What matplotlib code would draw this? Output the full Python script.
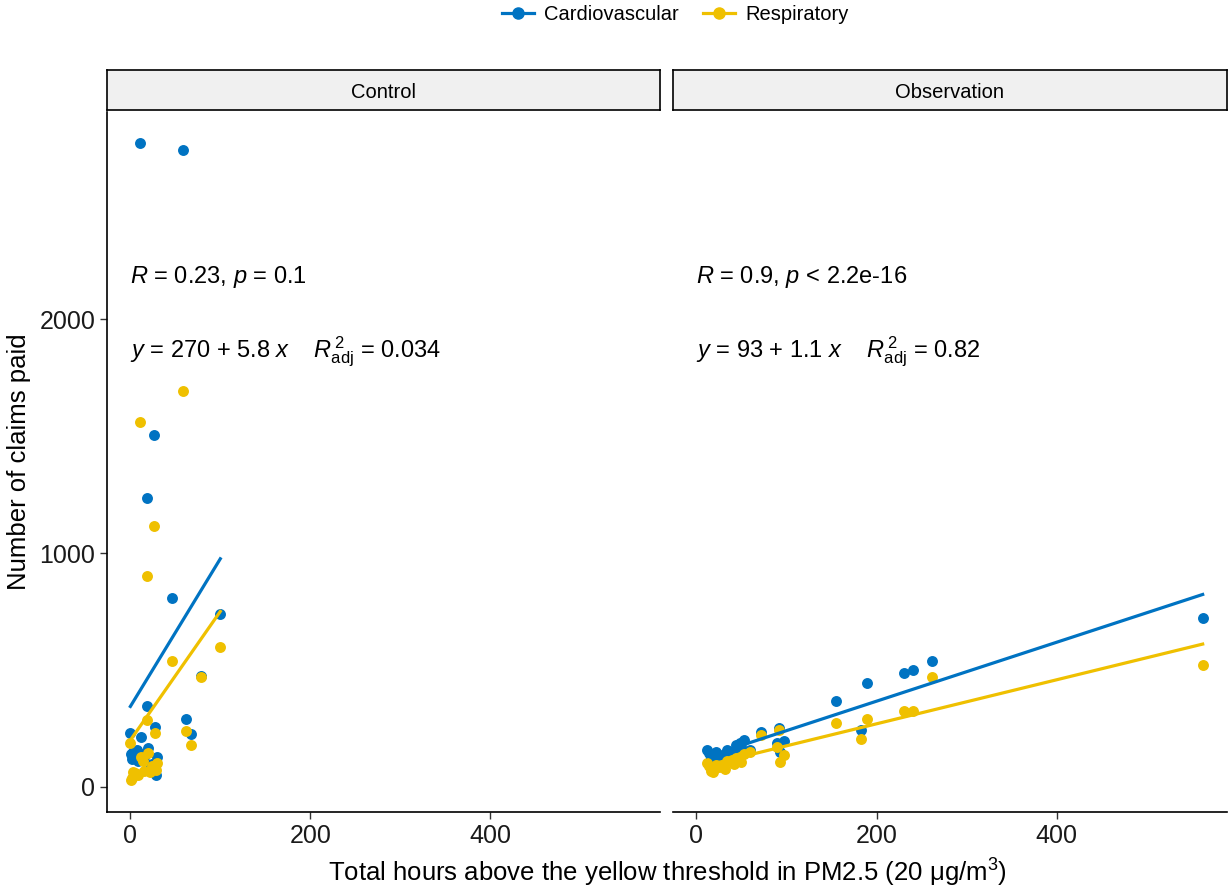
import numpy as np
import matplotlib.pyplot as plt

plt.rcParams['font.family'] = ['Liberation Sans', 'DejaVu Sans']
plt.rcParams['mathtext.fontset'] = 'custom'
plt.rcParams['mathtext.rm'] = 'Liberation Sans'
plt.rcParams['mathtext.it'] = 'Liberation Sans:italic'

#%% data
panels = ['Control', 'Observation']
series = ['Cardiovascular', 'Respiratory']
colors = ['#0073C2', '#EFC000']

ctrl_x = [0, 1, 2, 3, 5, 7, 9, 11, 12, 14, 15, 18, 19, 20, 22, 24, 26, 27, 28, 30, 46, 59, 62, 67, 78, 100]
ctrl_cardio = [231, 140, 120, 150, 130, 160, 110, 2752, 214, 140, 130, 346, 1235, 166, 77, 100, 1504, 256, 51, 128, 808, 2722, 291, 226, 474, 739]
ctrl_resp = [188, 30, 40, 64, 60, 55, 51, 1560, 128, 110, 70, 286, 902, 145, 64, 90, 1115, 231, 73, 103, 538, 1692, 239, 179, 470, 598]

obs_x = [12, 14, 16, 18, 20, 22, 25, 29, 32, 34, 39, 42, 44, 48, 50, 53, 59, 72, 89, 92, 93, 97, 155, 183, 189, 230, 240, 261, 562]
obs_cardio = [158, 145, 130, 120, 135, 150, 125, 128, 115, 158, 140, 150, 180, 188, 170, 201, 160, 235, 190, 252, 150, 197, 367, 244, 444, 487, 500, 539, 722]
obs_resp = [103, 90, 70, 64, 80, 95, 85, 94, 75, 110, 115, 100, 125, 130, 107, 140, 150, 222, 171, 244, 107, 137, 273, 205, 291, 325, 325, 470, 521]

cor_labels = [r'$R$ = 0.23, $p$ = 0.1', r'$R$ = 0.9, $p$ < 2.2e-16']
eq_labels = [r'$y$ = 270 + 5.8 $x$    $R^{\,2}_{\mathrm{adj}}$ = 0.034',
             r'$y$ = 93 + 1.1 $x$    $R^{\,2}_{\mathrm{adj}}$ = 0.82']

data = [(ctrl_x, [ctrl_cardio, ctrl_resp]), (obs_x, [obs_cardio, obs_resp])]

#%% figure
fig = plt.figure(figsize=(12.28, 8.88), dpi=100)
W, H = 1228, 888
ax_px = [(107, 660), (673, 1227)]
top, bot = 112, 812

for i, (xs, ys) in enumerate(data):
    x0, x1 = ax_px[i]
    ax = fig.add_axes([x0 / W, 1 - bot / H, (x1 - x0) / W, (bot - top) / H])
    xs = np.array(xs)
    for y, c in zip(ys, colors):
        ax.scatter(xs, y, s=62, color=c, zorder=3, linewidths=0)
    for y, c in zip(ys, colors):
        fit = np.polyfit(xs, y, 1)
        xx = np.array([xs.min(), xs.max()])
        ax.plot(xx, np.polyval(fit, xx), color=c, lw=2.3, zorder=4)
    ax.text(0, 2180, cor_labels[i], fontsize=17, va='center', ha='left')
    ax.text(0, 1860, eq_labels[i], fontsize=17, va='center', ha='left')
    ax.set_xlim(-26, 589)
    ax.set_ylim(-107, 2885)
    ax.set_xticks([0, 200, 400])
    ax.set_yticks([0, 1000, 2000])
    ax.tick_params(labelsize=18, length=5, width=1, color='#333333', labelcolor='#1a1a1a')
    for s in ['top', 'right']:
        ax.spines[s].set_visible(False)
    ax.spines['bottom'].set_linewidth(1.2)
    ax.spines['left'].set_linewidth(1.2)
    if i == 1:
        ax.spines['left'].set_visible(False)
        ax.tick_params(axis='y', left=False, labelleft=False)
    else:
        ax.set_ylabel('Number of claims paid', fontsize=18.5, labelpad=6)

    # facet strip
    sax = fig.add_axes([x0 / W, 1 - 110 / H, (x1 - x0) / W, 40 / H])
    sax.set_facecolor('#f0f0f0')
    sax.set_xticks([])
    sax.set_yticks([])
    for s in sax.spines.values():
        s.set_linewidth(1.2)
    sax.text(0.5, 0.45, panels[i], ha='center', va='center', fontsize=14.5, transform=sax.transAxes)

fig.text((107 + 1227) / 2 / W, 1 - 873 / H,
         r'Total hours above the yellow threshold in PM2.5 (20 $\mathrm{\mu}$g/m$^3$)',
         ha='center', va='center', fontsize=18.5)

handles = [plt.Line2D([], [], color=c, marker='o', lw=2.3, markersize=8) for c in colors]
fig.legend(handles, series, loc='center', bbox_to_anchor=(0.55, 1 - 15 / H), ncol=2,
           frameon=False, fontsize=14.5, handlelength=1.6, columnspacing=1.2, handletextpad=0.5)

plt.savefig('out.png', dpi=100)
